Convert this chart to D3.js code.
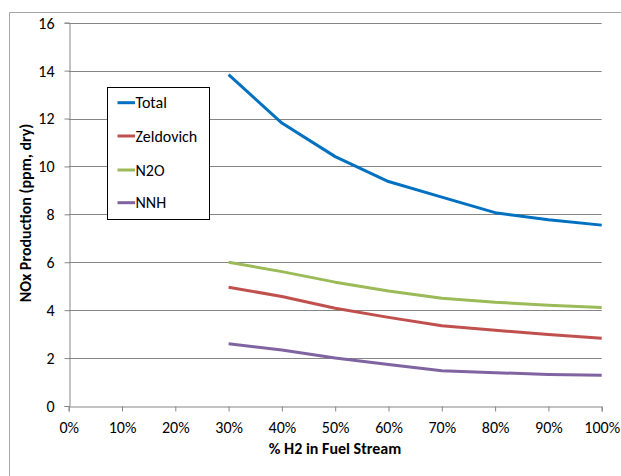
<!DOCTYPE html>
<html><head><meta charset="utf-8">
<script src="https://cdn.jsdelivr.net/npm/d3@7"></script>
<style>body{margin:0;background:#fff}svg{display:block}text{font-family:Carlito,"Open Sans","Liberation Sans",sans-serif}</style>
</head><body><svg id="c" width="621" height="476"></svg>
<script>
const xValues = [30, 40, 50, 60, 70, 80, 90, 100];
const total = [13.83, 11.81, 10.41, 9.37, 8.72, 8.07, 7.77, 7.55];
const zeldovich = [4.96, 4.57, 4.08, 3.70, 3.35, 3.16, 2.98, 2.83];
const n2o = [6.00, 5.61, 5.17, 4.80, 4.50, 4.33, 4.21, 4.11];
const nnh = [2.60, 2.34, 2.00, 1.73, 1.47, 1.39, 1.32, 1.28];
const seriesNames = ["Total", "Zeldovich", "N2O", "NNH"];
const xTicks = [0, 10, 20, 30, 40, 50, 60, 70, 80, 90, 100];
const yTicks = [0, 2, 4, 6, 8, 10, 12, 14, 16];
const colors = ["#0070C0", "#C0504D", "#9BBB59", "#8064A2"];

const FS = 16;
const svg = d3.select("#c");
// outer chart border
svg.append("path").attr("d","M9.5,476 V12.5 H621").attr("fill","none").attr("stroke","#a6a6a6").attr("stroke-width",1);

const x = d3.scaleLinear().domain([0,100]).range([68.7, 601.7]);
const y = d3.scaleLinear().domain([0,16]).range([406, 22.7]);

// gridlines
svg.append("g").selectAll("line").data(yTicks.filter(d=>d>0)).join("line")
  .attr("x1", x(0)).attr("x2", x(100))
  .attr("y1", d=>Math.round(y(d))+0.5).attr("y2", d=>Math.round(y(d))+0.5)
  .attr("stroke","#868686").attr("stroke-width",1);

// y axis
const yAxis = svg.append("g").attr("transform",`translate(${Math.round(x(0))+0.5},0)`)
  .call(d3.axisLeft(y).tickValues(yTicks).tickSize(5).tickPadding(10).tickFormat(d3.format("d")));
yAxis.select(".domain").attr("stroke","#868686");
yAxis.selectAll(".tick line").attr("stroke","#868686");
yAxis.selectAll("text").attr("font-size",FS).attr("fill","#000").attr("dy","0.34em");

// x axis
const xAxis = svg.append("g").attr("transform",`translate(0,${Math.round(y(0))+0.5})`)
  .call(d3.axisBottom(x).tickValues(xTicks).tickSize(5).tickPadding(10).tickFormat(d=>d+"%"));
xAxis.select(".domain").attr("stroke","#868686");
xAxis.selectAll(".tick line").attr("stroke","#868686");
xAxis.selectAll("text").attr("font-size",FS).attr("fill","#000");

// lines
const data = [total, zeldovich, n2o, nnh];
const line = d3.line().x((d,i)=>x(xValues[i])).y(d=>y(d));
svg.append("g").selectAll("path").data(data).join("path")
  .attr("d", d=>line(d)).attr("fill","none")
  .attr("stroke",(d,i)=>colors[i]).attr("stroke-width",3).attr("stroke-linejoin","round");

// axis titles
svg.append("text").attr("x",335).attr("y",454).attr("text-anchor","middle")
  .attr("font-size",FS).attr("font-weight","bold").text("% H2 in Fuel Stream");
svg.append("text").attr("transform","translate(31,213) rotate(-90)").attr("text-anchor","middle")
  .attr("font-size",FS).attr("font-weight","bold").text("NOx Production (ppm, dry)");

// legend
const lg = svg.append("g");
lg.append("rect").attr("x",107.5).attr("y",87.5).attr("width",102).attr("height",132)
  .attr("fill","#fff").attr("stroke","#000").attr("stroke-width",1);
const ly = [102.7, 136, 170, 202.7];
seriesNames.forEach((n,i)=>{
  lg.append("line").attr("x1",117.5).attr("x2",135).attr("y1",ly[i]).attr("y2",ly[i])
    .attr("stroke",colors[i]).attr("stroke-width",3);
  lg.append("text").attr("x",135.5).attr("y",ly[i]+5.5).attr("font-size",FS).text(n);
});
</script></body></html>
